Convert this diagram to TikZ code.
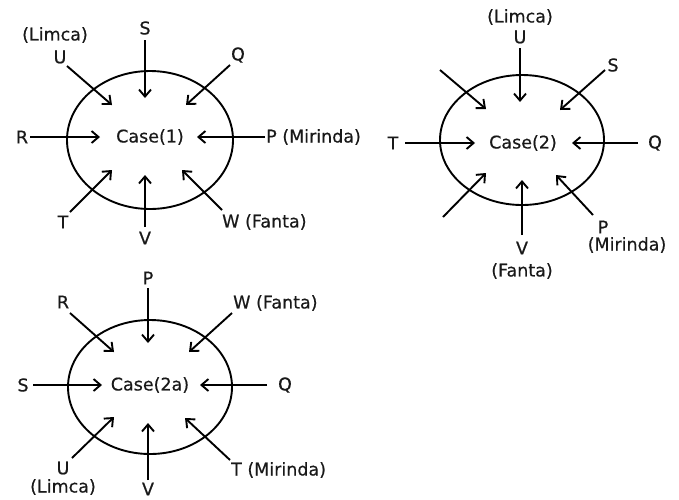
\documentclass[tikz,border=0pt]{standalone}
\usepackage{fontspec}
\setmainfont{DejaVu Sans}[BoldFont={DejaVu Sans},BoldFeatures={FakeBold=0.5}]
\usetikzlibrary{arrows.meta}
\begin{document}
\begin{tikzpicture}[x=1pt,y=-1pt,
  lbl/.style={inner sep=0pt,font=\fontsize{17.5}{19}\selectfont\bfseries,text=black!90},
  oval/.style={draw,line width=1.9pt},
  arr/.style={line width=1.9pt,-{Straight Barb[length=7pt,width=12pt,line width=1.9pt]}}]
\useasboundingbox (0,0) rectangle (679,499);
% ---------- Case 1 ----------
\draw[oval] (150,140) ellipse [x radius=83, y radius=69];
\node[lbl] (c1) at (150,137) {Case(1)};
\node[lbl] (c1limca) at (55,35) {(Limca)};
\node[lbl] (c1u) at (60,57) {U};
\node[lbl] (c1s) at (145,28) {S};
\node[lbl] (c1q) at (238,55) {Q};
\node[lbl] (c1r) at (22,137) {R};
\node[lbl,anchor=west] (c1p) at (266,137) {P (Mirinda)};
\node[lbl] (c1t) at (63,222) {T};
\node[lbl] (c1v) at (145,238) {V};
\node[lbl,anchor=west] (c1w) at (222,222) {W (Fanta)};
\coordinate (a1u) at (67,66);  \coordinate (b1u) at (112,105);
\coordinate (a1s) at (145,40); \coordinate (b1s) at (145,98);
\coordinate (a1q) at (230,65); \coordinate (b1q) at (186,105);
\coordinate (a1r) at (30,137); \coordinate (b1r) at (100,137);
\coordinate (a1p) at (265,137);\coordinate (b1p) at (197,137);
\coordinate (a1t) at (70,212); \coordinate (b1t) at (112,170);
\coordinate (a1v) at (145,227);\coordinate (b1v) at (145,175);
\coordinate (a1w) at (222,210);\coordinate (b1w) at (182,170);
\foreach \k in {u,s,q,r,p,t,v,w} {\draw[arr] (a1\k) -- (b1\k);}
% ---------- Case 2 ----------
\draw[oval] (522,140) ellipse [x radius=82, y radius=65];
\node[lbl] (c2) at (523,143) {Case(2)};
\node[lbl] (c2limca) at (520,17) {(Limca)};
\node[lbl] (c2u) at (520,37) {U};
\node[lbl] (c2s) at (613,65) {S};
\node[lbl] (c2t) at (393,143) {T};
\node[lbl] (c2q) at (655,143) {Q};
\node[lbl] (c2v) at (522,248) {V};
\node[lbl] (c2fanta) at (522,271) {(Fanta)};
\node[lbl] (c2p) at (603,227) {P};
\node[lbl] (c2mirinda) at (627,245) {(Mirinda)};
\coordinate (a2u) at (520,48);  \coordinate (b2u) at (520,102);
\coordinate (a2s) at (605,70);  \coordinate (b2s) at (560,110);
\coordinate (a2x) at (440,70);  \coordinate (b2x) at (486,109);
\coordinate (a2t) at (405,143); \coordinate (b2t) at (475,143);
\coordinate (a2q) at (638,143); \coordinate (b2q) at (572,143);
\coordinate (a2y) at (443,217); \coordinate (b2y) at (486,173);
\coordinate (a2v) at (522,235); \coordinate (b2v) at (522,180);
\coordinate (a2p) at (593,215); \coordinate (b2p) at (556,175);
\foreach \k in {u,s,x,t,q,y,v,p} {\draw[arr] (a2\k) -- (b2\k);}
% ---------- Case 2a ----------
\draw[oval] (150,387) ellipse [x radius=82, y radius=67];
\node[lbl] (c3) at (150,385) {Case(2a)};
\node[lbl] (c3p) at (148,278) {P};
\node[lbl] (c3r) at (63,302) {R};
\node[lbl,anchor=west] (c3w) at (233,303) {W (Fanta)};
\node[lbl] (c3s) at (23,385) {S};
\node[lbl] (c3q) at (285,385) {Q};
\node[lbl] (c3u) at (63,468) {U};
\node[lbl] (c3limca) at (63,487) {(Limca)};
\node[lbl] (c3v) at (148,489) {V};
\node[lbl,anchor=west] (c3t) at (231,470) {T (Mirinda)};
\coordinate (a3p) at (148,288); \coordinate (b3p) at (148,343);
\coordinate (a3r) at (70,313);  \coordinate (b3r) at (114,352);
\coordinate (a3w) at (232,313); \coordinate (b3w) at (189,352);
\coordinate (a3s) at (33,385);  \coordinate (b3s) at (102,385);
\coordinate (a3q) at (267,385); \coordinate (b3q) at (200,385);
\coordinate (a3u) at (72,458);  \coordinate (b3u) at (114,417);
\coordinate (a3v) at (148,480); \coordinate (b3v) at (148,423);
\coordinate (a3t) at (230,460); \coordinate (b3t) at (185,418);
\foreach \k in {p,r,w,s,q,u,v,t} {\draw[arr] (a3\k) -- (b3\k);}
\end{tikzpicture}
\end{document}
